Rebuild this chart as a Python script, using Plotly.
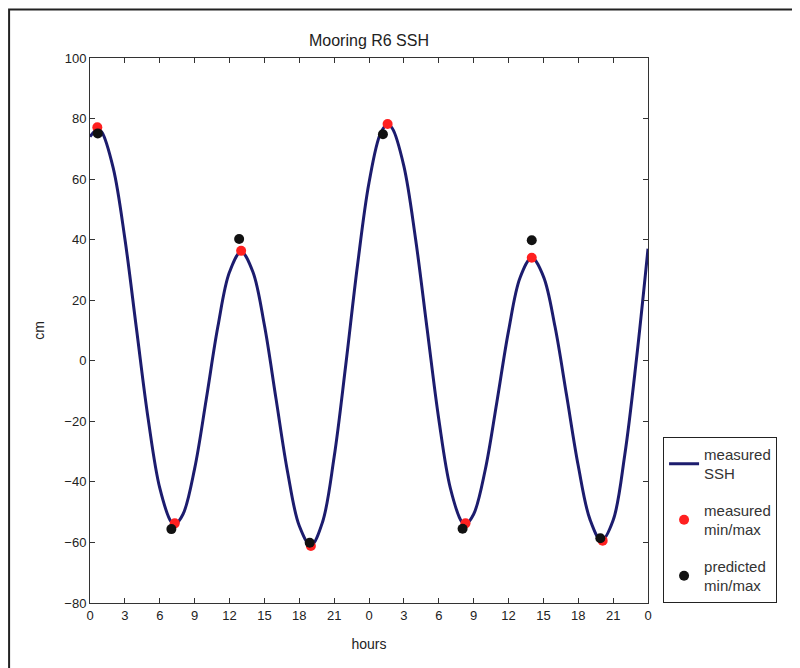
import plotly.graph_objects as go

# measured SSH (cm), read roughly every hour plus at the turning points
hours = [0, 0.65, 1, 2, 3, 4, 5, 6, 7, 7.3, 8, 9, 10, 11, 12, 13,
         14, 15, 16, 17, 18, 19, 20, 21, 22, 23, 24, 25, 25.6, 26,
         27, 28, 29, 30, 31, 32, 32.3, 33, 34, 35, 36, 37, 38,
         39, 40, 41, 42, 43, 44, 45, 46, 47, 48]
ssh = [74.0, 76.5, 75.6, 63.6, 40.3, 10.5, -19.1, -42.0, -53.3, -54.0, -50.7,
       -35.6, -12.7, 11.3, 29.3, 36.0,
       29.5, 11.8, -12.5, -36.8, -54.5, -61.0,
       -53.3, -31.8, -1.4, 31.2, 58.8, 75.2, 78.0,
       76.8, 64.3, 40.4, 10.5, -19.2, -42.1, -53.3, -54.0,
       -50.7, -36.0, -13.6, 9.8, 27.5, 34.0,
       27.9, 11.3, -11.5, -34.7, -52.3, -59.4,
       -52.7, -31.1, 0.3, 37.0]

# measured min/max
meas_t = [0.63, 7.29, 13.0, 19.0, 25.6, 32.3, 38.0, 44.1]
meas_v = [77.1, -53.7, 36.3, -61.2, 78.2, -53.7, 34.0, -59.4]

# predicted min/max
pred_t = [0.67, 7.0, 12.83, 18.9, 25.2, 32.05, 38.0, 43.9]
pred_v = [75.1, -55.6, 40.2, -60.1, 74.8, -55.5, 39.8, -58.6]

tick_vals = list(range(0, 49, 3))
tick_text = ["0", "3", "6", "9", "12", "15", "18", "21",
             "0", "3", "6", "9", "12", "15", "18", "21", "0"]

fig = go.Figure()
fig.add_trace(go.Scatter(x=hours, y=ssh, mode="lines", name="measured<br>SSH",
                         line=dict(color="#1c1c6e", width=3, shape="spline", smoothing=1.0),
                         legendgroup="a"))
fig.add_trace(go.Scatter(x=meas_t, y=meas_v, mode="markers", name="measured<br>min/max",
                         marker=dict(color="#ff2020", size=10), legendgroup="b"))
fig.add_trace(go.Scatter(x=pred_t, y=pred_v, mode="markers", name="predicted<br>min/max",
                         marker=dict(color="#111111", size=10), legendgroup="c"))

axis_common = dict(showline=True, linecolor="#333333", linewidth=1, mirror="ticks",
                   ticks="inside", ticklen=5, tickcolor="#333333", showgrid=False,
                   zeroline=False, tickfont=dict(size=13, color="#222222"))

fig.update_xaxes(range=[0, 48], tickmode="array", tickvals=tick_vals, ticktext=tick_text,
                 title=dict(text="hours", font=dict(size=14, color="#222222"), standoff=17),
                 **axis_common)
fig.update_yaxes(range=[-80, 100], tickmode="linear", tick0=-80, dtick=20,
                 title=dict(text="cm", font=dict(size=14, color="#222222"), standoff=16),
                 **axis_common)

fig.add_shape(type="rect", xref="paper", yref="paper", x0=-0.145, x1=1.267,
              y0=-0.2, y1=1.089, line=dict(color="#222222", width=2), layer="below")

fig.update_layout(
    width=800, height=668,
    margin=dict(l=82, r=160, t=50, b=73),
    paper_bgcolor="white", plot_bgcolor="white",
    font=dict(family="Liberation Sans, Arial, sans-serif", color="#222222"),
    title=dict(text="Mooring R6 SSH", x=0.5, xref="paper", xanchor="center",
               y=1 - 32 / 668, yanchor="middle", font=dict(size=16, color="#222222")),
    legend=dict(x=1.027, y=0.305, xanchor="left", yanchor="top",
                bordercolor="#222222", borderwidth=1, bgcolor="white",
                font=dict(size=15, color="#333333"), tracegroupgap=14,
                itemwidth=30),
    showlegend=True,
)

fig.write_html("out.html")
